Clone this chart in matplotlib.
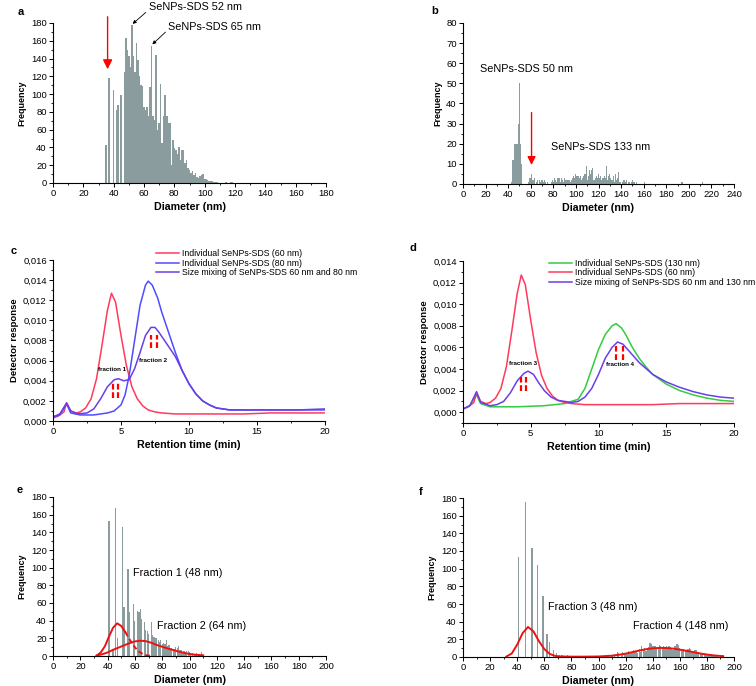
import numpy as np
import matplotlib
matplotlib.use("Agg")
import matplotlib.pyplot as plt
from matplotlib.ticker import MultipleLocator, FuncFormatter

plt.rcParams['font.family'] = ['Liberation Sans', 'DejaVu Sans']

# ---- panel a : histogram, 1 nm bins from 35 to 118 nm
diam_a = np.arange(35, 119)
freq_a = [43, 0, 118, 0, 0, 105, 0, 82, 88, 0,
          99, 0, 125, 163, 150, 143, 130, 178, 143, 125,
          158, 138, 120, 110, 109, 86, 82, 86, 75, 108,
          154, 75, 71, 144, 60, 67, 111, 45, 75, 99,
          75, 67, 67, 20, 48, 39, 37, 33, 41, 26,
          37, 37, 22, 26, 17, 15, 11, 13, 9, 11,
          7, 6, 8, 9, 10, 5, 4, 3, 2, 2,
          2, 1, 1, 1, 0, 0, 0, 0, 0, 1,
          0, 0, 1, 1]

# ---- panel b : histogram
diam_b = [43, 44, 45, 46, 47, 48, 49, 50, 51, 52,
          58, 59, 60, 61, 62, 63, 65, 66, 68, 69, 70, 71, 72, 73, 75, 78, 79,
          80, 81, 82, 83, 84, 85, 86, 87, 88, 89, 90, 91, 92, 93, 94, 95, 96, 97, 98, 99,
          100, 101, 102, 103, 104, 105, 106, 107, 108, 109, 110, 111, 112, 113, 114, 115,
          116, 117, 118, 119, 120, 121, 122, 123, 124, 125, 126, 127, 128, 129, 130, 131,
          132, 133, 134, 135, 136, 137, 138, 139, 141, 142, 143, 144, 145, 147, 149, 150,
          151, 152, 154, 161, 194, 212]
freq_b = [1, 12, 12, 20, 20, 20, 30, 50, 20, 10,
          1, 3, 3, 5, 2, 3, 1, 2, 2, 1, 2, 1, 2, 1, 1, 1, 2,
          1, 3, 2, 1, 3, 3, 1, 3, 2, 1, 3, 2, 2, 2, 2, 1, 2, 3, 4, 3,
          5, 4, 4, 3, 4, 2, 3, 4, 5, 9, 2, 4, 7, 5, 7, 8,
          2, 3, 4, 3, 5, 3, 4, 2, 3, 4, 3, 9, 2, 4, 5, 3,
          2, 4, 1, 5, 2, 3, 6, 1, 1, 2, 2, 1, 2, 1, 1, 2,
          1, 1, 1, 1, 1, 1]

# ---- panel c : AF4 fractograms
t_c_red = [0, 0.4, 0.8, 1.0, 1.3, 1.7, 2.0, 2.4, 2.8, 3.2, 3.6, 4.0, 4.3, 4.6, 5.0, 5.4,
           5.8, 6.2, 6.6, 7.0, 7.5, 8, 9, 10, 12, 14, 16, 18, 20]
y_c_red = [0.0003, 0.0005, 0.0009, 0.0018, 0.0010, 0.0008, 0.0009, 0.0013, 0.0022, 0.0042,
           0.0075, 0.0110, 0.0127, 0.0118, 0.0085, 0.0055, 0.0034, 0.0022, 0.0015, 0.0011,
           0.0009, 0.0008, 0.0007, 0.0007, 0.0007, 0.0007, 0.0008, 0.0008, 0.0008]
t_c_blue = [0, 0.5, 1.0, 1.3, 2, 3, 4, 4.5, 5, 5.3, 5.6, 6.0, 6.4, 6.8, 7.0, 7.3, 7.7, 8.0,
            8.5, 9, 9.5, 10, 10.5, 11, 11.5, 12, 13, 15, 18, 20]
y_c_blue = [0.0004, 0.0006, 0.0017, 0.0008, 0.0006, 0.0006, 0.0008, 0.0010, 0.0016, 0.0026,
            0.0045, 0.0080, 0.0115, 0.0135, 0.0139, 0.0135, 0.0122, 0.0108, 0.0088, 0.0068,
            0.0050, 0.0037, 0.0027, 0.0020, 0.0016, 0.0013, 0.0011, 0.0011, 0.0011, 0.0011]
t_c_mix = [0, 0.5, 1.0, 1.3, 1.8, 2.5, 3.0, 3.5, 4.0, 4.5, 4.8, 5.2, 5.6, 6.0, 6.4, 6.8, 7.2,
           7.5, 7.8, 8.2, 8.6, 9, 9.5, 10, 10.5, 11, 11.5, 12, 13, 15, 18, 20]
y_c_mix = [0.0004, 0.0007, 0.0018, 0.0010, 0.0007, 0.0008, 0.0012, 0.0022, 0.0034, 0.0041,
           0.0042, 0.0040, 0.0041, 0.0052, 0.0068, 0.0085, 0.0093, 0.0093, 0.0088, 0.0080,
           0.0072, 0.0064, 0.0050, 0.0037, 0.0027, 0.0020, 0.0016, 0.0013, 0.0011, 0.0011,
           0.0011, 0.0012]

# ---- panel d
t_d_green = [0, 0.5, 1.0, 1.3, 2, 4, 6, 7.5, 8.5, 9, 9.5, 10, 10.5, 11, 11.3, 11.7, 12,
             12.5, 13, 13.5, 14, 15, 16, 17, 18, 19, 20]
y_d_green = [0.0003, 0.0006, 0.0016, 0.0008, 0.0005, 0.0005, 0.0006, 0.0008, 0.0012, 0.0022,
             0.0040, 0.0058, 0.0072, 0.0080, 0.0082, 0.0078, 0.0072, 0.0060, 0.0050, 0.0042,
             0.0035, 0.0026, 0.0020, 0.0016, 0.0013, 0.0011, 0.0010]
t_d_red = t_c_red
y_d_red = y_c_red
t_d_mix = [0, 0.5, 1.0, 1.3, 2, 2.5, 3, 3.5, 4, 4.5, 4.8, 5.2, 5.6, 6, 6.5, 7, 7.5, 8, 8.5,
           9, 9.5, 10, 10.5, 11, 11.4, 11.8, 12.3, 13, 14, 15, 16, 17, 18, 19, 20]
y_d_mix = [0.0003, 0.0006, 0.0019, 0.0009, 0.0006, 0.0007, 0.0010, 0.0018, 0.0029, 0.0036,
           0.0038, 0.0035, 0.0027, 0.0020, 0.0014, 0.0011, 0.0010, 0.0009, 0.0010, 0.0014,
           0.0022, 0.0035, 0.0050, 0.0060, 0.0065, 0.0063, 0.0056, 0.0046, 0.0035, 0.0028,
           0.0023, 0.0019, 0.0016, 0.0014, 0.0013]

# collected fraction markers: (t_left, t_right, y_low, y_high)
frac_c = [(4.43, 4.80, 0.0023, 0.0038), (7.20, 7.62, 0.0073, 0.0085)]
frac_d = [(4.26, 4.63, 0.0020, 0.0033), (11.30, 11.80, 0.0048, 0.0061)]

# ---- panel e : fraction histograms + fits
diam_e = [41, 44, 46, 47, 51, 52, 55, 56, 59, 60, 62, 63, 64, 65, 67, 68, 69, 70, 72, 73,
          74, 75, 76, 77, 78, 79, 80, 81, 82, 83, 84, 85, 86, 87, 88, 89, 90, 91, 92, 93,
          94, 95, 96, 97, 98, 99, 100, 101, 102, 104, 105, 107, 109]
freq_e = [153, 8, 168, 20, 146, 55, 99, 50, 59, 40, 51, 50, 53, 42, 39, 30, 28, 25, 39, 24,
          22, 20, 20, 18, 16, 18, 14, 15, 14, 18, 11, 12, 9, 9, 8, 8, 10, 9, 11, 7,
          7, 5, 6, 5, 6, 6, 4, 3, 3, 2, 3, 2, 4]
fit1_x = [32, 35, 38, 41, 44, 47, 50, 53, 56, 59, 62, 65, 68, 71]
fit1_y = [0.5, 4, 11, 22, 32, 37, 34, 27, 19, 12, 6, 3, 1, 0.3]
fit2_x = [32, 36, 40, 44, 48, 52, 56, 60, 64, 68, 72, 76, 80, 84, 88, 92, 96, 100, 104, 108, 110]
fit2_y = [0.5, 2, 4, 7, 9.5, 12, 14.5, 16.5, 17.3, 16.8, 15, 12.5, 10.5, 8.5, 6.8, 5, 3.5,
          2.3, 1.5, 1, 0.8]

# ---- panel f
diam_f = [41, 46, 51, 55, 59, 62, 64, 67, 69, 71, 73, 75, 77, 79, 82, 88, 95, 100, 103, 106,
          108, 110, 112, 114, 115, 117, 118, 119, 120, 121, 122, 123, 124, 125, 126, 127, 128,
          129, 130, 131, 132, 133, 134, 135, 136, 137, 138, 139, 140, 141, 142, 143, 144, 145,
          146, 147, 148, 149, 150, 151, 152, 153, 154, 155, 156, 157, 158, 159, 160, 161, 162,
          163, 164, 165, 166, 167, 168, 169, 170, 171, 172, 173, 174, 175, 176, 177, 178, 179,
          180, 181, 182, 183, 184, 185, 186, 187, 188, 190]
freq_f = [113, 175, 123, 104, 69, 26, 17, 8, 4, 2, 2, 1, 2, 1, 1, 1, 1, 1, 1, 1,
          1, 2, 3, 6, 5, 3, 6, 4, 5, 3, 7, 5, 6, 4, 8, 6, 7,
          5, 9, 6, 13, 8, 10, 7, 8, 11, 16, 15, 12, 13, 12, 9, 11, 14,
          13, 10, 13, 11, 12, 9, 12, 11, 10, 8, 13, 12, 15, 14, 10, 9, 8,
          9, 7, 8, 9, 10, 9, 7, 7, 8, 8, 6, 6, 5, 5, 4, 4, 3,
          3, 2, 3, 2, 2, 2, 2, 1, 1, 1]
fit_f_x = [32, 36, 40, 44, 48, 52, 56, 60, 64, 68, 72, 80, 90, 100, 110, 115, 120, 125, 130,
           135, 140, 145, 150, 155, 160, 165, 170, 175, 180, 185, 190, 192]
fit_f_y = [0.5, 4, 14, 27, 34, 29, 18, 9, 3.5, 1.2, 0.6, 0.4, 0.4, 0.6, 1.5, 2.5, 3.8, 5.5,
           7.3, 8.8, 9.8, 10.3, 10.2, 9.5, 8.3, 7, 5.5, 4, 2.8, 1.8, 1.2, 1]

BAR = '#8b9c9e'
RED = '#ff3a5c'
BLUE = '#4d4dff'
PURPLE = '#6a3ee8'
GREEN = '#33cc40'
FIT = '#ee1111'
comma = FuncFormatter(lambda v, p: f"{v:.3f}".replace('.', ','))


def style(ax, xmaj, xmin, ymaj, ymin):
    for s in ['top', 'right']:
        ax.spines[s].set_visible(False)
    for s in ['left', 'bottom']:
        ax.spines[s].set_linewidth(0.8)
    ax.xaxis.set_major_locator(MultipleLocator(xmaj))
    ax.xaxis.set_minor_locator(MultipleLocator(xmin))
    ax.yaxis.set_major_locator(MultipleLocator(ymaj))
    ax.yaxis.set_minor_locator(MultipleLocator(ymin))
    ax.tick_params(which='major', direction='out', length=3, width=0.7, labelsize=6.8, pad=1.5)
    ax.tick_params(which='minor', direction='out', length=1.6, width=0.6)


def hist_labels(ax):
    ax.set_xlabel('Diameter (nm)', fontsize=7.7, fontweight='bold', labelpad=3)
    ax.set_ylabel('Frequency', fontsize=6.5, fontweight='bold', labelpad=3)


W, H = 756, 686
fig = plt.figure(figsize=(W / 100, H / 100), dpi=100)


def px_axes(l, r, b, t):
    return fig.add_axes([l / W, 1 - b / H, (r - l) / W, (b - t) / H])


TXT = 7.8

# a
ax = px_axes(53, 326, 183, 23)
ax.bar(diam_a, freq_a, width=1.0, color=BAR, linewidth=0)
ax.set_xlim(0, 180)
ax.set_ylim(0, 180)
style(ax, 20, 10, 20, 10)
hist_labels(ax)
ax.annotate('SeNPs-SDS 52 nm', xy=(52.5, 179), xytext=(63, 198), fontsize=TXT,
            va='center', annotation_clip=False,
            arrowprops=dict(arrowstyle='-|>', color='black', lw=0.6, mutation_scale=5,
                            relpos=(0, 0.2), shrinkA=0, shrinkB=0))
ax.annotate('SeNPs-SDS 65 nm', xy=(65.5, 156), xytext=(76, 176), fontsize=TXT,
            va='center', annotation_clip=False,
            arrowprops=dict(arrowstyle='-|>', color='black', lw=0.6, mutation_scale=5,
                            relpos=(0, 0.2), shrinkA=0, shrinkB=0))
ax.annotate('', xy=(36, 128), xytext=(36, 187), annotation_clip=False,
            arrowprops=dict(arrowstyle='-|>', color='red', lw=1.0, mutation_scale=14,
                            shrinkA=0, shrinkB=0))
fig.text(18 / W, 1 - 12 / H, 'a', fontsize=8, fontweight='bold', va='center')

# b
ax = px_axes(463, 734, 184, 23)
ax.bar(diam_b, freq_b, width=1.0, color=BAR, linewidth=0)
ax.set_xlim(0, 240)
ax.set_ylim(0, 80)
style(ax, 20, 10, 10, 5)
hist_labels(ax)
ax.text(15, 57, 'SeNPs-SDS 50 nm', fontsize=TXT, va='center')
ax.text(78, 18.4, 'SeNPs-SDS 133 nm', fontsize=TXT, va='center')
ax.annotate('', xy=(60.7, 9.5), xytext=(60.7, 35.5),
            arrowprops=dict(arrowstyle='-|>', color='red', lw=1.0, mutation_scale=12,
                            shrinkA=0, shrinkB=0))
fig.text(431 / W, 1 - 11 / H, 'b', fontsize=8, fontweight='bold', va='center')


def frac_marks(ax, marks):
    for tl, tr, lo, hi in marks:
        for tx in (tl, tr):
            ax.plot([tx, tx], [lo, hi], color='red', lw=1.6, ls=(0, (2.6, 1.2)))


# c
ax = px_axes(53, 325, 421, 260)
ax.plot(t_c_red, y_c_red, color=RED, lw=1.1, label='Individual SeNPs-SDS (60 nm)')
ax.plot(t_c_blue, y_c_blue, color=BLUE, lw=1.1, label='Individual SeNPs-SDS (80 nm)')
ax.plot(t_c_mix, y_c_mix, color=PURPLE, lw=1.1,
        label='Size mixing of SeNPs-SDS 60 nm and 80 nm')
frac_marks(ax, frac_c)
ax.text(4.34, 0.0051, 'fraction 1', fontsize=4.5, fontweight='bold', ha='center', va='center')
ax.text(7.35, 0.0060, 'fraction 2', fontsize=4.5, fontweight='bold', ha='center', va='center')
ax.set_xlim(0, 20)
ax.set_ylim(0, 0.016)
style(ax, 5, 2.5, 0.002, 0.001)
ax.yaxis.set_major_formatter(comma)
ax.set_xlabel('Retention time (min)', fontsize=7.7, fontweight='bold', labelpad=3)
ax.set_ylabel('Detector response', fontsize=6.8, fontweight='bold', labelpad=3)
ax.legend(loc='upper left', bbox_to_anchor=(0.38, 1.07), frameon=False, fontsize=6.3,
          handlelength=2.6, handletextpad=0.3, labelspacing=0.1, borderpad=0,
          borderaxespad=0)
fig.text(11 / W, 1 - 251 / H, 'c', fontsize=8, fontweight='bold', va='center')

# d
ax = px_axes(463, 734, 423, 261)
ax.plot(t_d_green, y_d_green, color=GREEN, lw=1.1, label='Individual SeNPs-SDS (130 nm)')
ax.plot(t_d_red, y_d_red, color=RED, lw=1.1, label='Individual SeNPs-SDS (60 nm)')
ax.plot(t_d_mix, y_d_mix, color=PURPLE, lw=1.1,
        label='Size mixing of SeNPs-SDS 60 nm and 130 nm')
frac_marks(ax, frac_d)
ax.text(4.43, 0.0045, 'fraction 3', fontsize=4.5, fontweight='bold', ha='center', va='center')
ax.text(11.6, 0.0044, 'fraction 4', fontsize=4.5, fontweight='bold', ha='center', va='center')
ax.set_xlim(0, 20)
ax.set_ylim(-0.001, 0.014)
style(ax, 5, 2.5, 0.002, 0.001)
ax.set_yticks(np.arange(0, 0.0141, 0.002))
ax.yaxis.set_major_formatter(comma)
ax.set_xlabel('Retention time (min)', fontsize=7.7, fontweight='bold', labelpad=3)
ax.set_ylabel('Detector response', fontsize=6.8, fontweight='bold', labelpad=3)
ax.legend(loc='upper left', bbox_to_anchor=(0.318, 1.015), frameon=False, fontsize=6.3,
          handlelength=2.6, handletextpad=0.3, labelspacing=0.1, borderpad=0,
          borderaxespad=0)
fig.text(410 / W, 1 - 248 / H, 'd', fontsize=8, fontweight='bold', va='center')

# e
ax = px_axes(53, 326, 656, 497)
ax.bar(diam_e, freq_e, width=0.85, color=BAR, linewidth=0)
split = 8
ax.plot(fit1_x[:split], fit1_y[:split], color=FIT, lw=1.4)
ax.plot(fit1_x[split - 1:], fit1_y[split - 1:], color=FIT, lw=1.4, ls=(0, (2.5, 1.5)))
ax.plot(fit2_x, fit2_y, color=FIT, lw=1.4)
ax.text(58.6, 94, 'Fraction 1 (48 nm)', fontsize=TXT, va='center')
ax.text(76, 34, 'Fraction 2 (64 nm)', fontsize=TXT, va='center')
ax.set_xlim(0, 200)
ax.set_ylim(0, 180)
style(ax, 20, 10, 20, 10)
hist_labels(ax)
fig.text(17 / W, 1 - 490 / H, 'e', fontsize=8, fontweight='bold', va='center')

# f
ax = px_axes(463, 734, 657, 498)
ax.bar(diam_f, freq_f, width=0.9, color=BAR, linewidth=0)
ax.plot(fit_f_x, fit_f_y, color=FIT, lw=1.4)
ax.text(62.7, 56.6, 'Fraction 3 (48 nm)', fontsize=TXT, va='center')
ax.text(125.5, 35, 'Fraction 4 (148 nm)', fontsize=TXT, va='center')
ax.set_xlim(0, 200)
ax.set_ylim(0, 180)
style(ax, 20, 10, 20, 10)
hist_labels(ax)
fig.text(419 / W, 1 - 492 / H, 'f', fontsize=8, fontweight='bold', va='center')

fig.savefig('out.png', dpi=100)
